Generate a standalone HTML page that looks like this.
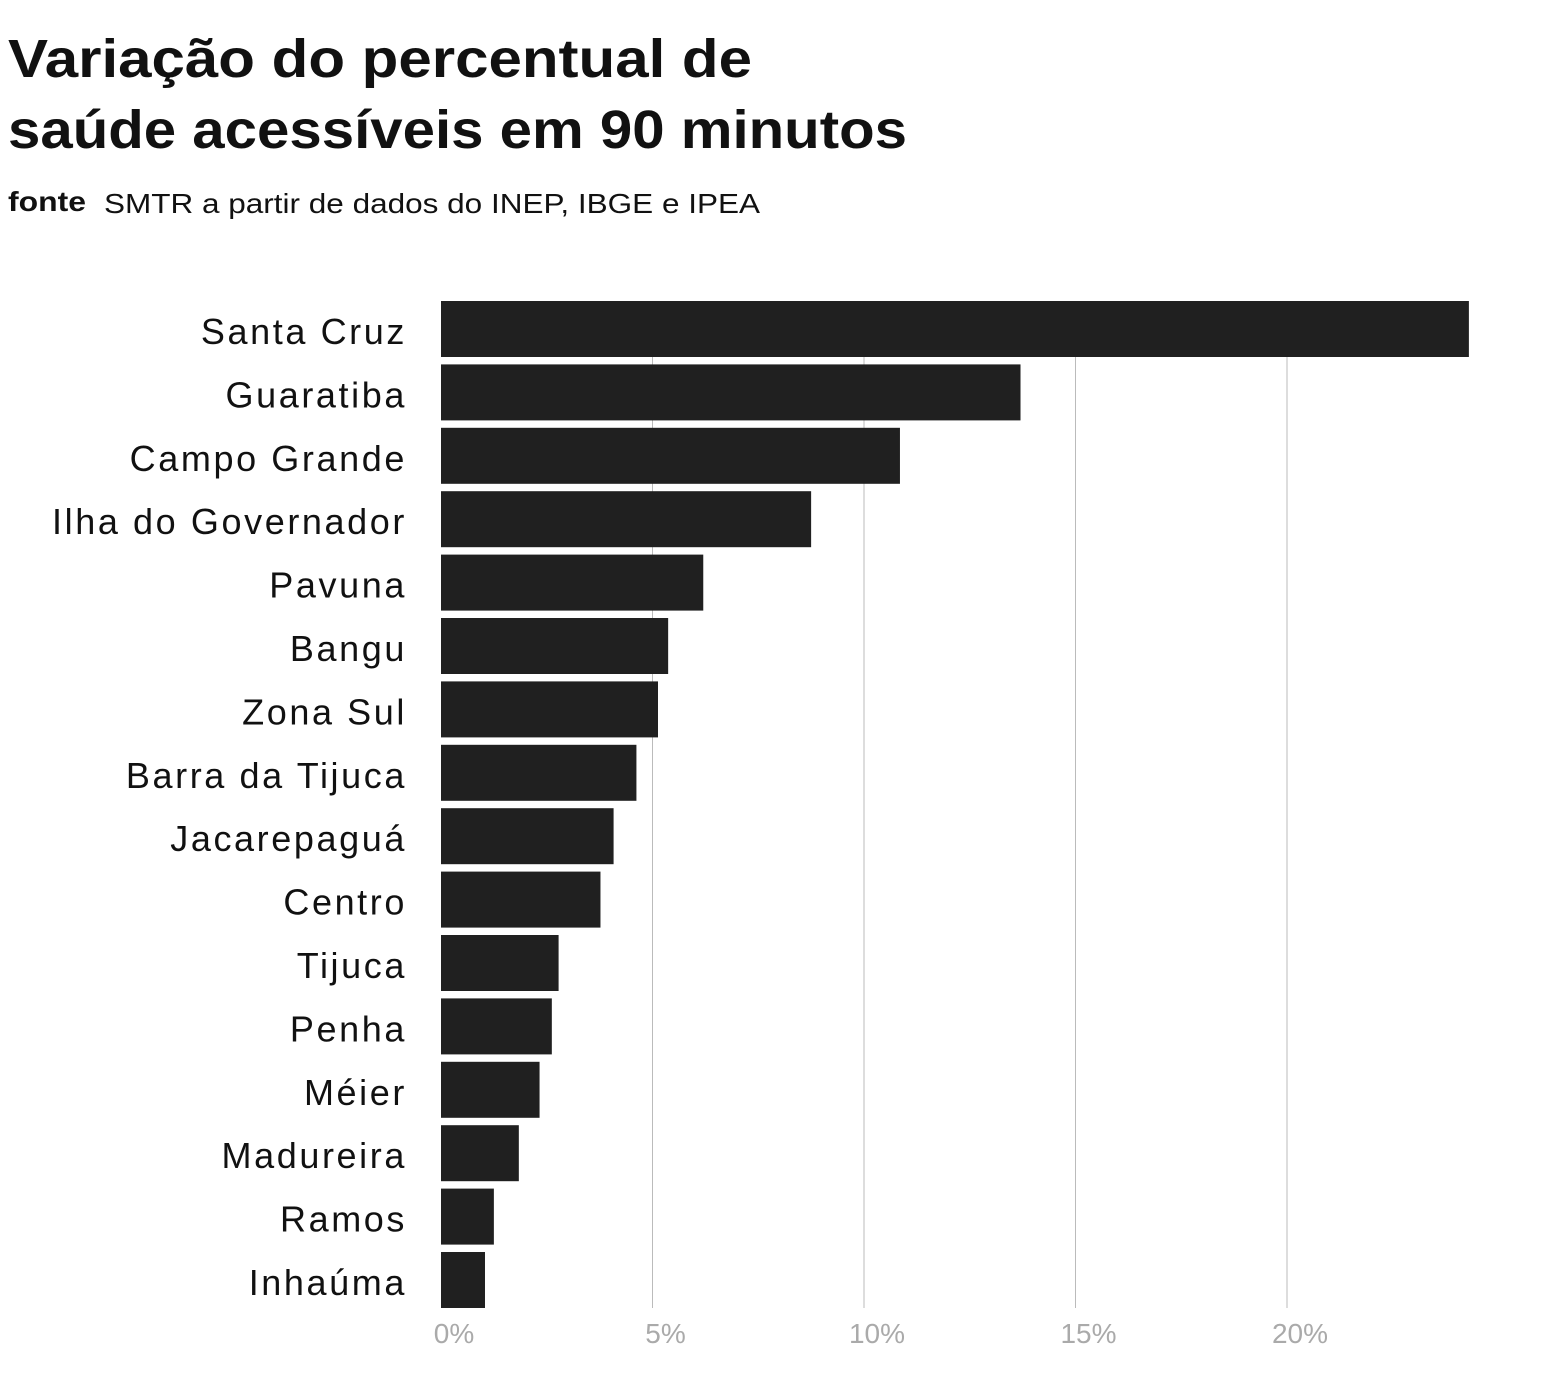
<!DOCTYPE html>
<html><head><meta charset="utf-8"><style>
body{margin:0;background:#fff;width:1558px;height:1377px;overflow:hidden;font-family:"Liberation Sans",sans-serif}
</style></head><body>
<svg width="1558" height="1377">
<text x="8" y="77" font-size="54" font-weight="bold" fill="#111" textLength="744" lengthAdjust="spacingAndGlyphs">Variação do percentual de</text>
<text x="8" y="148" font-size="54" font-weight="bold" fill="#111" textLength="899" lengthAdjust="spacingAndGlyphs">saúde acessíveis em 90 minutos</text>
<text x="8" y="211" font-size="28" font-weight="bold" fill="#111" textLength="78" lengthAdjust="spacingAndGlyphs">fonte</text>
<text x="104" y="213" font-size="28" fill="#111" textLength="656" lengthAdjust="spacingAndGlyphs">SMTR a partir de dados do INEP, IBGE e IPEA</text>
<g id="grid"></g><g id="bars"></g><g id="labels"></g><g id="ticks"></g>
</svg>
<script>
const categories=["Santa Cruz","Guaratiba","Campo Grande","Ilha do Governador","Pavuna","Bangu","Zona Sul","Barra da Tijuca","Jacarepaguá","Centro","Tijuca","Penha","Méier","Madureira","Ramos","Inhaúma"];
const values=[24.3,13.7,10.85,8.75,6.2,5.37,5.13,4.62,4.08,3.77,2.78,2.62,2.33,1.84,1.25,1.04];
const tickValues=[0,5,10,15,20];
const tickLabels=["0%","5%","10%","15%","20%"];
const ns="http://www.w3.org/2000/svg";
const x0=441,pxPer=42.3,top0=301,step=63.4,bh=56,bottom=1308;
const xs=v=>x0+v*pxPer;
const ys=i=>top0+i*step;
const g=document.getElementById('grid'),b=document.getElementById('bars'),l=document.getElementById('labels'),t=document.getElementById('ticks');
tickValues.forEach((v,i)=>{
 if(v>0){const ln=document.createElementNS(ns,'line');
 ln.setAttribute('x1',xs(v));ln.setAttribute('x2',xs(v));ln.setAttribute('y1',top0);ln.setAttribute('y2',bottom);
 ln.setAttribute('stroke','#bbb');ln.setAttribute('stroke-width','1');
 
 
 g.appendChild(ln);}
 const tx=document.createElementNS(ns,'text');
 tx.setAttribute('x',xs(v)+13);tx.setAttribute('y',1343);tx.setAttribute('text-anchor','middle');
 tx.setAttribute('font-size','28');tx.setAttribute('fill','#aaa');tx.textContent=tickLabels[i];
 
 
 t.appendChild(tx);
});
categories.forEach((c,i)=>{
 const r=document.createElementNS(ns,'rect');
 r.setAttribute('x',x0);r.setAttribute('y',ys(i));r.setAttribute('width',xs(values[i])-x0);r.setAttribute('height',bh);r.setAttribute('fill','#202020');
 
 
 b.appendChild(r);
 const tx=document.createElementNS(ns,'text');
 tx.setAttribute('x',407);tx.setAttribute('y',ys(i)+bh/2+15);tx.setAttribute('text-anchor','end');
 tx.setAttribute('font-size','36');tx.setAttribute('fill','#111');tx.setAttribute('letter-spacing','2.6');tx.textContent=c;
 
 
 l.appendChild(tx);
});
</script>
</body></html>
